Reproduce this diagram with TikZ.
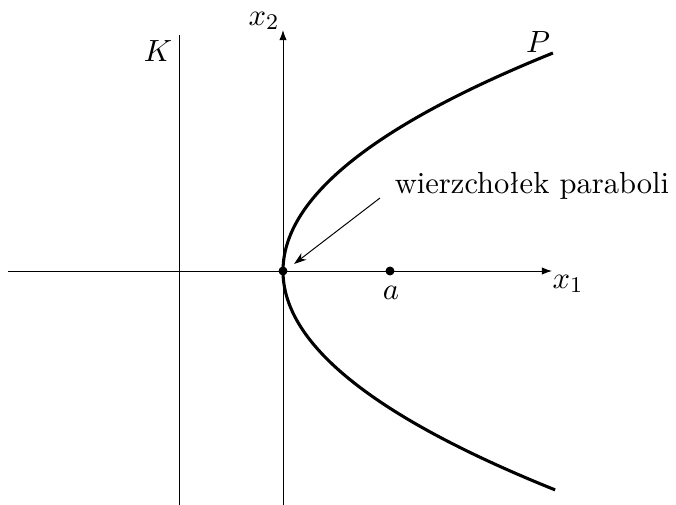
\documentclass[tikz,border=0pt]{standalone}
\usetikzlibrary{arrows.meta}
\begin{document}
\begin{tikzpicture}[x=0.357pt,y=-0.357pt,
  axis/.style={line width=0.35pt,-{Latex[length=3.6pt,width=2.6pt]}},
  thinline/.style={line width=0.35pt},
  curve/.style={line width=1.1pt},
  lbl/.style={inner sep=0pt, font=\fontsize{10.9}{13}\selectfont},
  dotpt/.style={circle,fill=black,inner sep=0pt,minimum size=3.2pt}]
\useasboundingbox (0,0) rectangle (676,505);
% axes
\coordinate (xs) at (8,271);
\coordinate (xe) at (552,271);
\coordinate (ys) at (283,505);
\coordinate (ye) at (283,30);
\coordinate (ks) at (179,505);
\coordinate (ke) at (179,35);
\draw[axis] (xs) -- (xe);
\draw[axis] (ys) -- (ye);
\draw[thinline] (ks) -- (ke);
% parabola
\draw[curve] plot[domain=-2.18:2.19,samples=120,smooth,variable=\t] ({283+56.8*\t*\t},{271+100*\t});
% points
\node[dotpt] (v) at (283,271) {};
\node[dotpt] (fa) at (390,271) {};
% labels
\node[lbl] (lx2) at (264,21) {$x_2$};
\node[lbl] (lx1) at (568,284) {$x_1$};
\node[lbl] (la) at (391,293) {$a$};
\node[lbl] (lK) at (158,51) {$K$};
\node[lbl] (lP) at (538,42) {$P$};
\node[lbl] (lw) at (532,186) {wierzchołek paraboli};
\coordinate (ws) at (380,198);
\coordinate (we) at (294,264);
\draw[thinline,-{Stealth[length=4.5pt,width=3pt]}] (ws) -- (we);
\end{tikzpicture}
\end{document}
